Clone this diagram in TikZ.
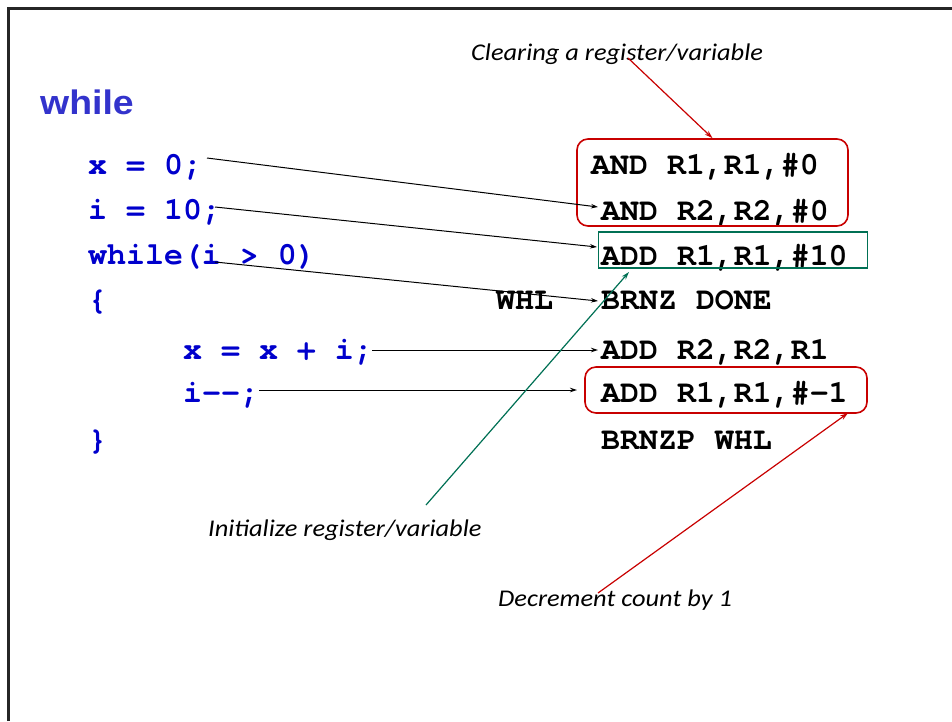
\documentclass[tikz,border=0pt]{standalone}
\usepackage{fontspec}
\setmainfont{Liberation Sans}
\newfontfamily\titlefont{Liberation Sans}[FakeStretch=1.1]
\newfontfamily\codefont{TeX Gyre Cursor}
\newfontfamily\notefont{Carlito}[FakeStretch=1.1]
\usetikzlibrary{arrows.meta}
\definecolor{codeblue}{RGB}{0,0,204}
\definecolor{titleblue}{RGB}{51,51,204}
\definecolor{boxred}{RGB}{200,0,0}
\definecolor{boxgreen}{RGB}{0,112,84}
\begin{document}
\begin{tikzpicture}[x=1pt,y=-1pt,
  code/.style={anchor=base west, inner sep=0pt,
    font=\codefont\bfseries\fontsize{31.6}{31.6}\selectfont, text=codeblue},
  asm/.style={code, text=black},
  note/.style={anchor=base west, inner sep=0pt,
    font=\notefont\itshape\fontsize{24}{24}\selectfont},
  link/.style={-{Stealth[length=7pt,width=4.5pt]}, line width=1pt},
  callout/.style={-{Stealth[length=8pt,width=5pt]}, line width=1.2pt},
  redbox/.style={draw=boxred, line width=1.6pt, rounded corners=11pt},
  greenbox/.style={draw=boxgreen, line width=1.6pt}]
\useasboundingbox (0,0) rectangle (952,721);

% slide frame (top and left edges)
\draw[line width=2.6pt, black!85] (8.5,721) -- (8.5,8.5) -- (952,8.5);

% title
\node[anchor=base west, inner sep=0pt, text=titleblue,
  font=\titlefont\bfseries\fontsize{34}{34}\selectfont] (title) at (40,114) {while};

% C source
\node[code] (c1) at (88,174) {x = 0;};
\node[code] (c2) at (88,219) {i = 10;};
\node[code] (c3) at (88,264) {while(i > 0)};
\node[code] (c4) at (88,309) {\{};
\node[code] (c5) at (183,359) {x = x + i;};
\node[code] (c6) at (183,402) {i--;};
\node[code] (c7) at (88,449) {\}};

% LC-3 assembly
\node[asm] (a1) at (591,174) {AND R1,R1,\#0};
\node[asm] (a2) at (601,220) {AND R2,R2,\#0};
\node[asm] (a3) at (601,265) {ADD R1,R1,\#10};
\node[asm] (lbl) at (496,309) {WHL};
\node[asm] (a4) at (601,309) {BRNZ DONE};
\node[asm] (a5) at (601,359) {ADD R2,R2,R1};
\node[asm] (a6) at (601,402) {ADD R1,R1,\#-1};
\node[asm] (a7) at (601,449) {BRNZP WHL};

% highlight boxes
\node[redbox, minimum width=271pt, minimum height=87pt, inner sep=0pt]
  (clr) at (712.5,182.5) {};
\node[greenbox, minimum width=269pt, minimum height=36pt, inner sep=0pt]
  (ini) at (733,250) {};
\node[redbox, minimum width=282pt, minimum height=46pt, inner sep=0pt]
  (dec) at (726,390) {};

% notes
\node[note] (n1) at (471,60) {Clearing a register/variable};
\node[note] (n2) at (208,536) {Initialize register/variable};
\node[note] (n3) at (498,606) {Decrement count by 1};

% connector ends
\coordinate (s1) at (207,158);
\coordinate (e1) at (598,207);
\coordinate (s2) at (215,207);
\coordinate (e2) at (597,247);
\coordinate (s3) at (215,262);
\coordinate (e3) at (598,301);
\coordinate (s4) at (372,350);
\coordinate (e4) at (598,350);
\coordinate (s5) at (259,390);
\coordinate (e5) at (577,390);
\coordinate (k1) at (628,58);
\coordinate (k2) at (426,505);
\coordinate (t2) at (629,272);
\coordinate (k3) at (598,593);
\coordinate (t3) at (848,413);

% statement-to-instruction links
\draw[link] (s1) -- (e1);
\draw[link] (s2) -- (e2);
\draw[link] (s3) -- (e3);
\draw[link] (s4) -- (e4);
\draw[link] (s5) -- (e5);

% note callouts
\draw[callout, boxred] (k1) -- (clr.north);
\draw[callout, boxgreen] (k2) -- (t2);
\draw[callout, boxred] (k3) -- (t3);
\end{tikzpicture}
\end{document}
